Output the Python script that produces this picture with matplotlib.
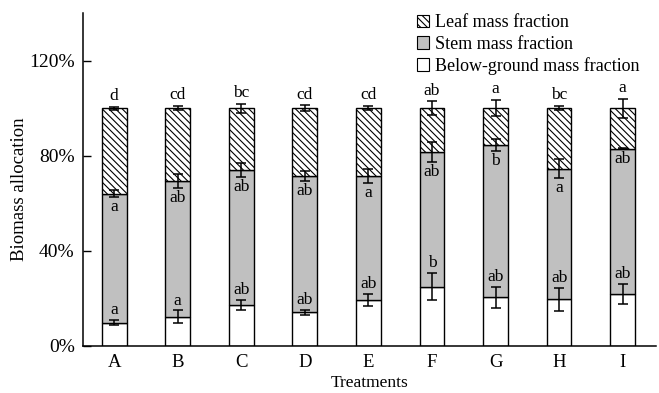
import matplotlib.pyplot as plt
import matplotlib.patches as mpatches
import numpy as np

plt.rcParams['font.family'] = ['Liberation Serif', 'DejaVu Serif']
plt.rcParams['hatch.linewidth'] = 0.8

# data
treatments = ["A", "B", "C", "D", "E", "F", "G", "H", "I"]
below = [9.8, 12.3, 17.2, 14.1, 19.3, 24.9, 20.4, 19.5, 21.8]
stem_top = [64.0, 69.3, 74.1, 71.3, 71.3, 81.5, 84.5, 74.5, 82.9]
total = [100, 100, 100, 100, 100, 100, 100, 100, 100]

below_err = [1.0, 2.6, 2.2, 1.0, 2.4, 5.7, 4.5, 4.8, 4.2]
stem_err = [1.6, 3.0, 3.0, 2.1, 3.0, 4.2, 2.5, 4.0, 0.3]
leaf_err = [0.6, 1.0, 1.9, 1.3, 1.0, 2.8, 3.5, 1.0, 4.0]

below_letters = ["a", "a", "ab", "ab", "ab", "b", "ab", "ab", "ab"]
stem_letters = ["a", "ab", "ab", "ab", "a", "ab", "b", "a", "ab"]
leaf_letters = ["d", "cd", "bc", "cd", "cd", "ab", "a", "bc", "a"]

#====================================================================================================

def main():

    below_v = np.array(below)
    stem_v = np.array(stem_top) - below_v
    leaf_v = np.array(total) - np.array(stem_top)

    x = np.arange(len(treatments))
    w = 0.39

    fig = plt.figure(figsize=(6.59, 3.93), dpi=100)
    ax = fig.add_axes([0.126, 0.12, 0.869, 0.847])

    ax.bar(x, below_v, w, color="white", edgecolor="black", linewidth=1.0)
    ax.bar(x, stem_v, w, bottom=below_v, color="#c0c0c0", edgecolor="black", linewidth=1.0)
    ax.bar(x, leaf_v, w, bottom=stem_top, color="white", edgecolor="black",
           linewidth=1.0, hatch="\\\\\\\\\\")

    ekw = dict(fmt="none", ecolor="black", elinewidth=1.1, capsize=3.5, capthick=1.1)
    ax.errorbar(x, below, yerr=below_err, **ekw)
    ax.errorbar(x, stem_top, yerr=stem_err, **ekw)
    ax.errorbar(x, total, yerr=leaf_err, **ekw)

    # significance letters
    for i in range(len(treatments)):
        ax.text(x[i], below[i] + below_err[i] + 0.8, below_letters[i],
                ha="center", va="bottom", fontsize=12.5)
        ax.text(x[i], stem_top[i] - stem_err[i] - 0.8, stem_letters[i],
                ha="center", va="top", fontsize=12.5)
        ax.text(x[i], total[i] + leaf_err[i] + 1.0, leaf_letters[i],
                ha="center", va="bottom", fontsize=12.5)

    ax.set_xlim(-0.49, 8.52)
    ax.set_ylim(0, 140)
    ax.set_yticks([0, 40, 80, 120])
    ax.set_yticklabels(["0%", "40%", "80%", "120%"])
    ax.set_xticks(x)
    ax.set_xticklabels(treatments)
    ax.tick_params(axis="y", direction="in", length=6, width=1, labelsize=14, pad=6)
    ax.tick_params(axis="x", length=0, labelsize=13.5, pad=6)

    ax.spines["top"].set_visible(False)
    ax.spines["right"].set_visible(False)
    ax.spines["left"].set_linewidth(1.1)
    ax.spines["bottom"].set_linewidth(1.1)

    ax.set_xlabel("Treatments", fontsize=12.5, labelpad=3)
    ax.set_ylabel("Biomass allocation", fontsize=13.5)
    ax.yaxis.set_label_coords(-0.096, 0.47)

    handles = [
        mpatches.Patch(facecolor="white", edgecolor="black", hatch="\\\\\\\\\\", linewidth=0.8, label="Leaf mass fraction"),
        mpatches.Patch(facecolor="#c0c0c0", edgecolor="black", linewidth=0.8, label="Stem mass fraction"),
        mpatches.Patch(facecolor="white", edgecolor="black", linewidth=0.8, label="Below-ground mass fraction"),
    ]
    ax.legend(handles=handles, loc="upper right", bbox_to_anchor=(0.99, 1.029), frameon=False,
              fontsize=13, handlelength=0.7, handleheight=0.7, handletextpad=0.3,
              labelspacing=0.25, borderaxespad=0.2)

    plt.savefig("out.png", dpi=100)

#====================================================================================================

if __name__ == "__main__":

    main()
